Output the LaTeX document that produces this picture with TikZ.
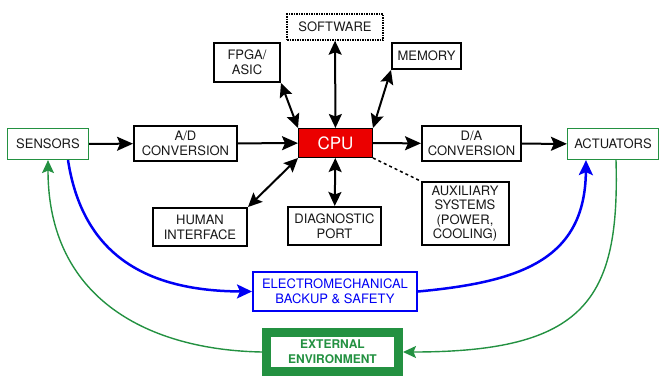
\documentclass[tikz,border=0pt]{standalone}
\usepackage{fontspec}
\setmainfont{TeX Gyre Heros}
\usetikzlibrary{arrows.meta}
\definecolor{cpured}{RGB}{235,0,0}
\definecolor{envgreen}{RGB}{35,145,65}
\definecolor{safeblue}{RGB}{0,0,245}
\begin{document}
\begin{tikzpicture}[x=1pt,y=-1pt]

% Styles for the blocks and the arrows between them
\tikzstyle{block}=[draw,line width=2pt,align=center,inner sep=0pt,text=black!90,font=\fontsize{13}{15}\selectfont]
\tikzstyle{io}=[block,draw=envgreen,line width=1.2pt]
\tikzstyle{link}=[line width=2pt,-{Stealth[length=16pt,width=14pt,inset=3pt]}]
\tikzstyle{dlink}=[line width=2pt,{Stealth[length=14pt,width=13pt,inset=2.5pt]}-{Stealth[length=14pt,width=13pt,inset=2.5pt]}]
\tikzstyle{loop}=[line width=2.5pt,draw=safeblue,-{Stealth[length=15pt,width=14pt,inset=3pt]}]
\tikzstyle{env}=[line width=1.4pt,draw=envgreen,-{Stealth[length=13pt,width=12pt,inset=2.5pt]}]

\useasboundingbox (0,0) rectangle (661,378);

% Processor in the middle
\node [block,line width=1pt,fill=cpured,text=white,minimum width=74,minimum height=29,font=\fontsize{17}{19}\selectfont] (cpu) at (335.5,143) {CPU};

% Blocks around the processor
\node [block,line width=1.5pt,densely dotted,minimum width=96,minimum height=26] (software) at (335,27) {SOFTWARE};
\node [block,minimum width=66,minimum height=39] (fpga) at (247,62.5) {FPGA/\\ASIC};
\node [block,minimum width=69,minimum height=26] (memory) at (426.5,56) {MEMORY};
\node [block,minimum width=103,minimum height=35] (adconv) at (185.5,143.5) {A/D\\CONVERSION};
\node [block,minimum width=99,minimum height=35] (daconv) at (471.5,143.5) {D/A\\CONVERSION};
\node [block,minimum width=94,minimum height=38] (human) at (200,227) {HUMAN\\INTERFACE};
\node [block,minimum width=93,minimum height=38] (diag) at (334.5,226) {DIAGNOSTIC\\PORT};
\node [block,minimum width=87,minimum height=63,font=\fontsize{13}{14.5}\selectfont] (aux) at (465,213.5) {AUXILIARY\\SYSTEMS\\(POWER,\\COOLING)};

% Inputs and outputs
\node [io,minimum width=81,minimum height=31] (sensors) at (48,144) {SENSORS};
\node [io,minimum width=91,minimum height=31] (actuators) at (613,144) {ACTUATORS};

% Backup path and the environment
\node [block,draw=safeblue,text=safeblue,minimum width=164,minimum height=39] (backup) at (335,291.5) {ELECTROMECHANICAL\\BACKUP \& SAFETY};
\node [block,draw=envgreen,line width=9pt,text=envgreen,minimum width=132,minimum height=39,font=\fontsize{12}{15}\selectfont\bfseries] (external) at (332.5,352) {EXTERNAL\\ENVIRONMENT};

% Main signal chain
\draw [link] (sensors) -- (adconv);
\draw [link] (adconv) -- (cpu);
\draw [link] (cpu) -- (daconv);
\draw [link] (daconv) -- (actuators);

% Two-way links to the processor
\draw [dlink] (software) -- (cpu);
\draw [dlink] (fpga.south east) -- (cpu.north west);
\draw [dlink] (memory.south west) -- (cpu.north east);
\draw [dlink] (human.north east) -- (cpu.south west);
\draw [dlink] (diag) -- (cpu);
\draw [line width=1.5pt,dashed] (cpu.south east) -- (aux.north west);

% Backup loop
\draw [loop] ([xshift=20pt]sensors.south) .. controls (82,250) and (140,291) .. (backup.west);
\draw [loop] (backup.east) .. controls (520,282) and (585,260) .. ([xshift=-27pt]actuators.south);

% Loop through the environment
\draw [env] ([xshift=3pt]actuators.south) .. controls (620,300) and (585,352) .. (external.east);
\draw [env] (external.west) .. controls (150,350) and (48,300) .. (sensors.south);

\end{tikzpicture}
\end{document}
